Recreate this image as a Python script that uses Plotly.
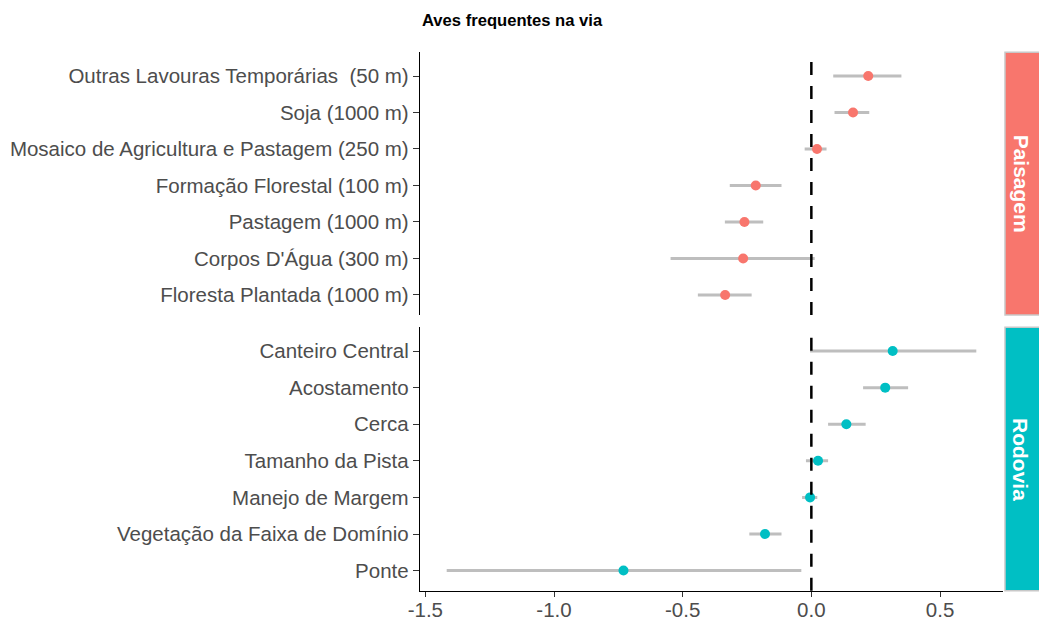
import plotly.graph_objects as go

# ---------------- data ----------------
paisagem_labels = ["Outras Lavouras Temporárias  (50 m)", "Soja (1000 m)",
                   "Mosaico de Agricultura e Pastagem (250 m)", "Formação Florestal (100 m)",
                   "Pastagem (1000 m)", "Corpos D'Água (300 m)", "Floresta Plantada (1000 m)"]
paisagem_est = [0.221, 0.162, 0.022, -0.216, -0.260, -0.265, -0.335]
paisagem_low = [0.085, 0.090, -0.026, -0.317, -0.336, -0.547, -0.441]
paisagem_high = [0.350, 0.225, 0.059, -0.116, -0.187, 0.013, -0.232]

rodovia_labels = ["Canteiro Central", "Acostamento", "Cerca", "Tamanho da Pista",
                  "Manejo de Margem", "Vegetação da Faixa de Domínio", "Ponte"]
rodovia_est = [0.316, 0.287, 0.136, 0.026, -0.005, -0.180, -0.730]
rodovia_low = [-0.005, 0.201, 0.065, -0.021, -0.036, -0.241, -1.417]
rodovia_high = [0.641, 0.376, 0.211, 0.065, 0.023, -0.116, -0.039]

facet_names = ["Paisagem", "Rodovia"]
facet_colors = ["#F8766D", "#00BFC4"]
x_ticks = [-1.5, -1.0, -0.5, 0.0, 0.5]
x_ticklabels = ["-1.5", "-1.0", "-0.5", "0.0", "0.5"]
title_text = "Aves frequentes na via"

# ---------------- layout geometry ----------------
W, H = 1039, 622
FONT = "Liberation Sans, Arial, sans-serif"
px_x = lambda p: p / W
px_y = lambda p: 1 - p / H

x_dom = [px_x(420), px_x(1003)]
top_dom = [px_y(315), px_y(52.3)]
bot_dom = [px_y(590.7), px_y(327.3)]
x_range = [-1.5207, 0.7447]
y_range = [-0.55, 6.65]
LAB = 20.5

fig = go.Figure()

panels = [
    (paisagem_labels, paisagem_est, paisagem_low, paisagem_high, "x2", "y2"),
    (rodovia_labels, rodovia_est, rodovia_low, rodovia_high, "x", "y"),
]
for i, (labs, est, lo, hi, xa, ya) in enumerate(panels):
    plus = [h - e for h, e in zip(hi, est)]
    minus = [e - l for e, l in zip(est, lo)]
    fig.add_trace(go.Scatter(
        x=est, y=labs, mode="markers", xaxis=xa, yaxis=ya,
        marker=dict(color=facet_colors[i], size=10, line=dict(width=0)),
        error_x=dict(type="data", symmetric=False, array=plus, arrayminus=minus,
                     color="#BEBEBE", thickness=3, width=0),
        showlegend=False, hoverinfo="x+y",
    ))
    fig.add_shape(type="line", xref=xa, yref=f"{ya} domain", x0=0, x1=0, y0=0, y1=1,
                  line=dict(color="black", width=2.5, dash="13px,11px"), layer="above")

axis_common = dict(showgrid=False, zeroline=False)
fig.update_layout(
    width=W, height=H,
    margin=dict(l=0, r=0, t=0, b=0),
    paper_bgcolor="white", plot_bgcolor="white",
    font=dict(family=FONT, color="#4D4D4D", size=LAB),
    xaxis=dict(domain=x_dom, range=x_range, anchor="y", tickvals=x_ticks, ticktext=x_ticklabels,
               showline=True, linecolor="black", linewidth=1.4, ticks="outside", ticklen=5,
               tickcolor="#333333", tickwidth=1.4,
               tickfont=dict(family=FONT, size=LAB, color="#4D4D4D"), automargin=False, **axis_common),
    xaxis2=dict(domain=x_dom, range=x_range, anchor="y2", matches="x", showticklabels=False,
                showline=False, ticks="", automargin=False, **axis_common),
    yaxis=dict(domain=bot_dom, anchor="x", type="category", categoryorder="array",
               categoryarray=rodovia_labels[::-1], range=y_range,
               showline=True, linecolor="black", linewidth=1.4, ticks="outside", ticklen=6,
               tickcolor="#333333", tickwidth=1.4,
               tickfont=dict(family=FONT, size=LAB, color="#4D4D4D"), automargin=False, **axis_common),
    yaxis2=dict(domain=top_dom, anchor="x2", type="category", categoryorder="array",
                categoryarray=paisagem_labels[::-1], range=y_range,
                showline=True, linecolor="black", linewidth=1.4, ticks="outside", ticklen=6,
                tickcolor="#333333", tickwidth=1.4,
                tickfont=dict(family=FONT, size=LAB, color="#4D4D4D"), automargin=False, **axis_common),
)
try:
    fig.update_xaxes(ticklabelstandoff=-5, selector=dict(anchor="y"))
except Exception:
    pass

# facet strips
for name, col, dom in zip(facet_names, facet_colors, [top_dom, bot_dom]):
    fig.add_shape(type="rect", xref="paper", yref="paper",
                  x0=px_x(1005), x1=px_x(1045), y0=dom[0], y1=dom[1],
                  fillcolor=col, line=dict(color="#C8C8C8", width=1.5), layer="below")
    fig.add_annotation(x=px_x(1021), y=(dom[0] + dom[1]) / 2, xref="paper", yref="paper",
                       text=f"<b>{name}</b>", textangle=90, showarrow=False,
                       font=dict(family=FONT, size=21, color="white"),
                       xanchor="center", yanchor="middle")

# title
fig.add_annotation(x=px_x(420), y=px_y(20), xref="paper", yref="paper",
                   text=f"<b>{title_text}</b>", showarrow=False, xanchor="left", yanchor="middle",
                   font=dict(family=FONT, size=16.6, color="black"))

fig.write_html("out.html")
